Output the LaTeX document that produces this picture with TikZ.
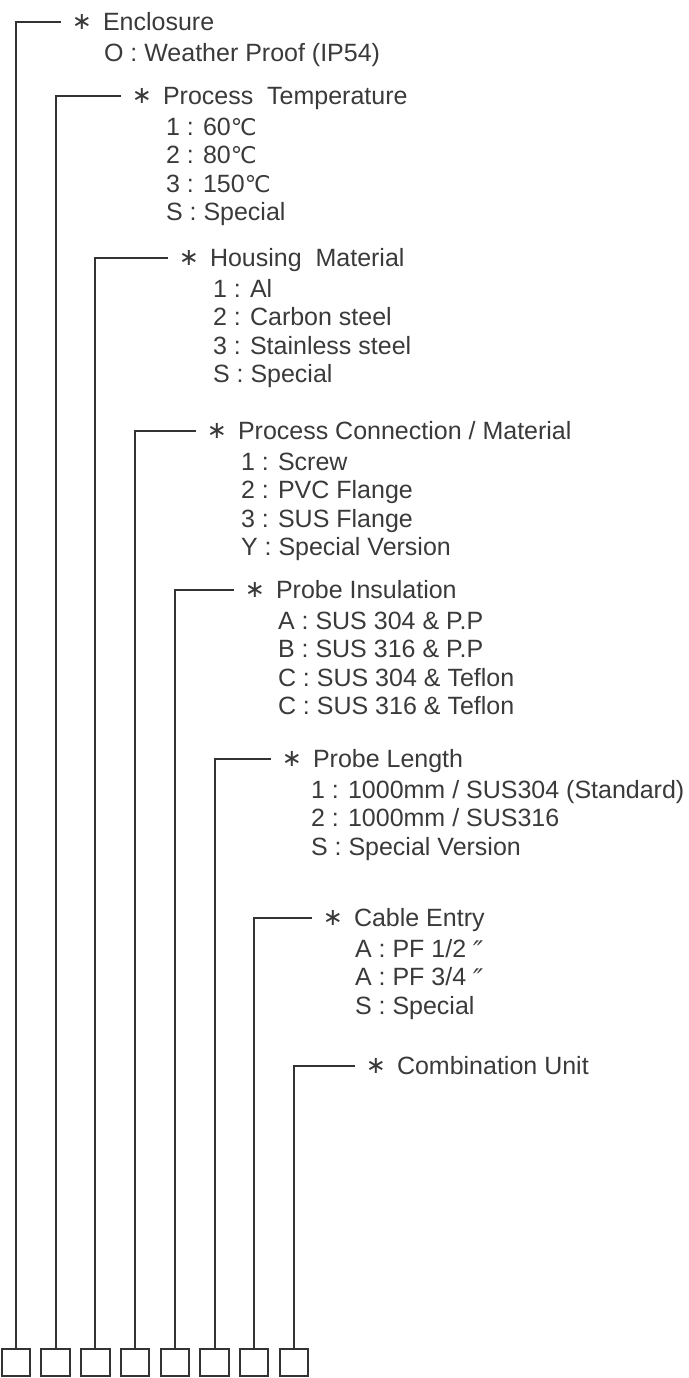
\documentclass[tikz,border=0pt]{standalone}
\usepackage{fontspec}
\setmainfont{Liberation Sans}
\newfontfamily\symfont{DejaVu Sans}
\usetikzlibrary{positioning}

\definecolor{inkgray}{HTML}{333333}
\definecolor{textgray}{HTML}{3A3A3A}

\newcommand{\degc}{{\symfont\fontsize{23}{23}\selectfont ℃}}
\newcommand{\inch}{\raisebox{-3pt}{\symfont\itshape\fontsize{27}{27}\selectfont ″}}

\tikzset{
  wire/.style={draw=inkgray, line width=2pt},
  codebox/.style={draw=inkgray, line width=2pt, minimum width=28.5pt, minimum height=27pt, inner sep=0pt, outer sep=0pt},
  starmark/.style={font=\symfont\fontsize{24}{24}\selectfont, text=textgray, inner sep=0pt, anchor=center},
  headtext/.style={font=\fontsize{25}{28.5}\selectfont, text=textgray, inner sep=0pt, outer sep=0pt, text height=17.9pt, text depth=0pt},
  itemtext/.style={font=\fontsize{25}{28.5}\selectfont, text=textgray, inner sep=0pt, outer sep=0pt, text height=19pt, text depth=9.5pt, anchor=north west}
}

\begin{document}
\begin{tikzpicture}[x=1pt, y=-1pt]
        \useasboundingbox (0,0) rectangle (688,1378);

        % Code boxes
        \node[codebox] (box1) at (16,1362.5) {};
        \node[codebox, right=11.2pt of box1] (box2) {};
        \node[codebox, right=11.2pt of box2] (box3) {};
        \node[codebox, right=11.2pt of box3] (box4) {};
        \node[codebox, right=11.2pt of box4] (box5) {};
        \node[codebox, right=11.2pt of box5] (box6) {};
        \node[codebox, right=11.2pt of box6] (box7) {};
        \node[codebox, right=11.2pt of box7] (box8) {};

        % Line ends
        \coordinate (cut1) at (61,22);
        \coordinate (cut2) at (121,96);
        \coordinate (cut3) at (168,258);
        \coordinate (cut4) at (196,431);
        \coordinate (cut5) at (234,590);
        \coordinate (cut6) at (271,759);
        \coordinate (cut7) at (312,918);
        \coordinate (cut8) at (355,1066);

        % Enclosure
        \node[starmark] (star1) at ([xshift=21pt]cut1) {∗};
        \node[headtext, right=42pt of cut1] (head1) {Enclosure};
        \node[itemtext, below right=11.5pt and 1pt of head1.south west] (enc1) {O : Weather Proof (IP54)};

        % Process temperature
        \node[starmark] (star2) at ([xshift=21pt]cut2) {∗};
        \node[headtext, right=42pt of cut2] (head2) {Process~ Temperature};
        \node[itemtext, below right=11.5pt and 3pt of head2.south west] (temp1) {1 : 60\degc};
        \node[itemtext] (temp2) at (temp1.south west) {2 : 80\degc};
        \node[itemtext] (temp3) at (temp2.south west) {3 : 150\degc};
        \node[itemtext] (temp4) at (temp3.south west) {S : Special};

        % Housing material
        \node[starmark] (star3) at ([xshift=21pt]cut3) {∗};
        \node[headtext, right=42pt of cut3] (head3) {Housing~ Material};
        \node[itemtext, below right=11.5pt and 3pt of head3.south west] (hous1) {1 : Al};
        \node[itemtext] (hous2) at (hous1.south west) {2 : Carbon steel};
        \node[itemtext] (hous3) at (hous2.south west) {3 : Stainless steel};
        \node[itemtext] (hous4) at (hous3.south west) {S : Special};

        % Process connection
        \node[starmark] (star4) at ([xshift=21pt]cut4) {∗};
        \node[headtext, right=42pt of cut4] (head4) {Process Connection / Material};
        \node[itemtext, below right=11.5pt and 3pt of head4.south west] (conn1) {1 : Screw};
        \node[itemtext] (conn2) at (conn1.south west) {2 : PVC Flange};
        \node[itemtext] (conn3) at (conn2.south west) {3 : SUS Flange};
        \node[itemtext] (conn4) at (conn3.south west) {Y : Special Version};

        % Probe insulation
        \node[starmark] (star5) at ([xshift=21pt]cut5) {∗};
        \node[headtext, right=42pt of cut5] (head5) {Probe Insulation};
        \node[itemtext, below right=11.5pt and 2pt of head5.south west] (insu1) {A : SUS 304 \& P.P};
        \node[itemtext] (insu2) at (insu1.south west) {B : SUS 316 \& P.P};
        \node[itemtext] (insu3) at (insu2.south west) {C : SUS 304 \& Teflon};
        \node[itemtext] (insu4) at (insu3.south west) {C : SUS 316 \& Teflon};

        % Probe length
        \node[starmark] (star6) at ([xshift=21pt]cut6) {∗};
        \node[headtext, right=42pt of cut6] (head6) {Probe Length};
        \node[itemtext, below right=11.5pt and -2pt of head6.south west] (leng1) {1 : 1000mm / SUS304 (Standard)};
        \node[itemtext] (leng2) at (leng1.south west) {2 : 1000mm / SUS316};
        \node[itemtext] (leng3) at (leng2.south west) {S : Special Version};

        % Cable entry
        \node[starmark] (star7) at ([xshift=21pt]cut7) {∗};
        \node[headtext, right=42pt of cut7] (head7) {Cable Entry};
        \node[itemtext, below right=11.5pt and 1pt of head7.south west] (cabl1) {A : PF 1/2 \inch};
        \node[itemtext] (cabl2) at (cabl1.south west) {A : PF 3/4 \inch};
        \node[itemtext] (cabl3) at (cabl2.south west) {S : Special};

        % Combination unit
        \node[starmark] (star8) at ([xshift=21pt]cut8) {∗};
        \node[headtext, right=42pt of cut8] (head8) {Combination Unit};

        % Leads
        \draw[wire] (box1.north) |- (cut1);
        \draw[wire] (box2.north) |- (cut2);
        \draw[wire] (box3.north) |- (cut3);
        \draw[wire] (box4.north) |- (cut4);
        \draw[wire] (box5.north) |- (cut5);
        \draw[wire] (box6.north) |- (cut6);
        \draw[wire] (box7.north) |- (cut7);
        \draw[wire] (box8.north) |- (cut8);
\end{tikzpicture}
\end{document}
